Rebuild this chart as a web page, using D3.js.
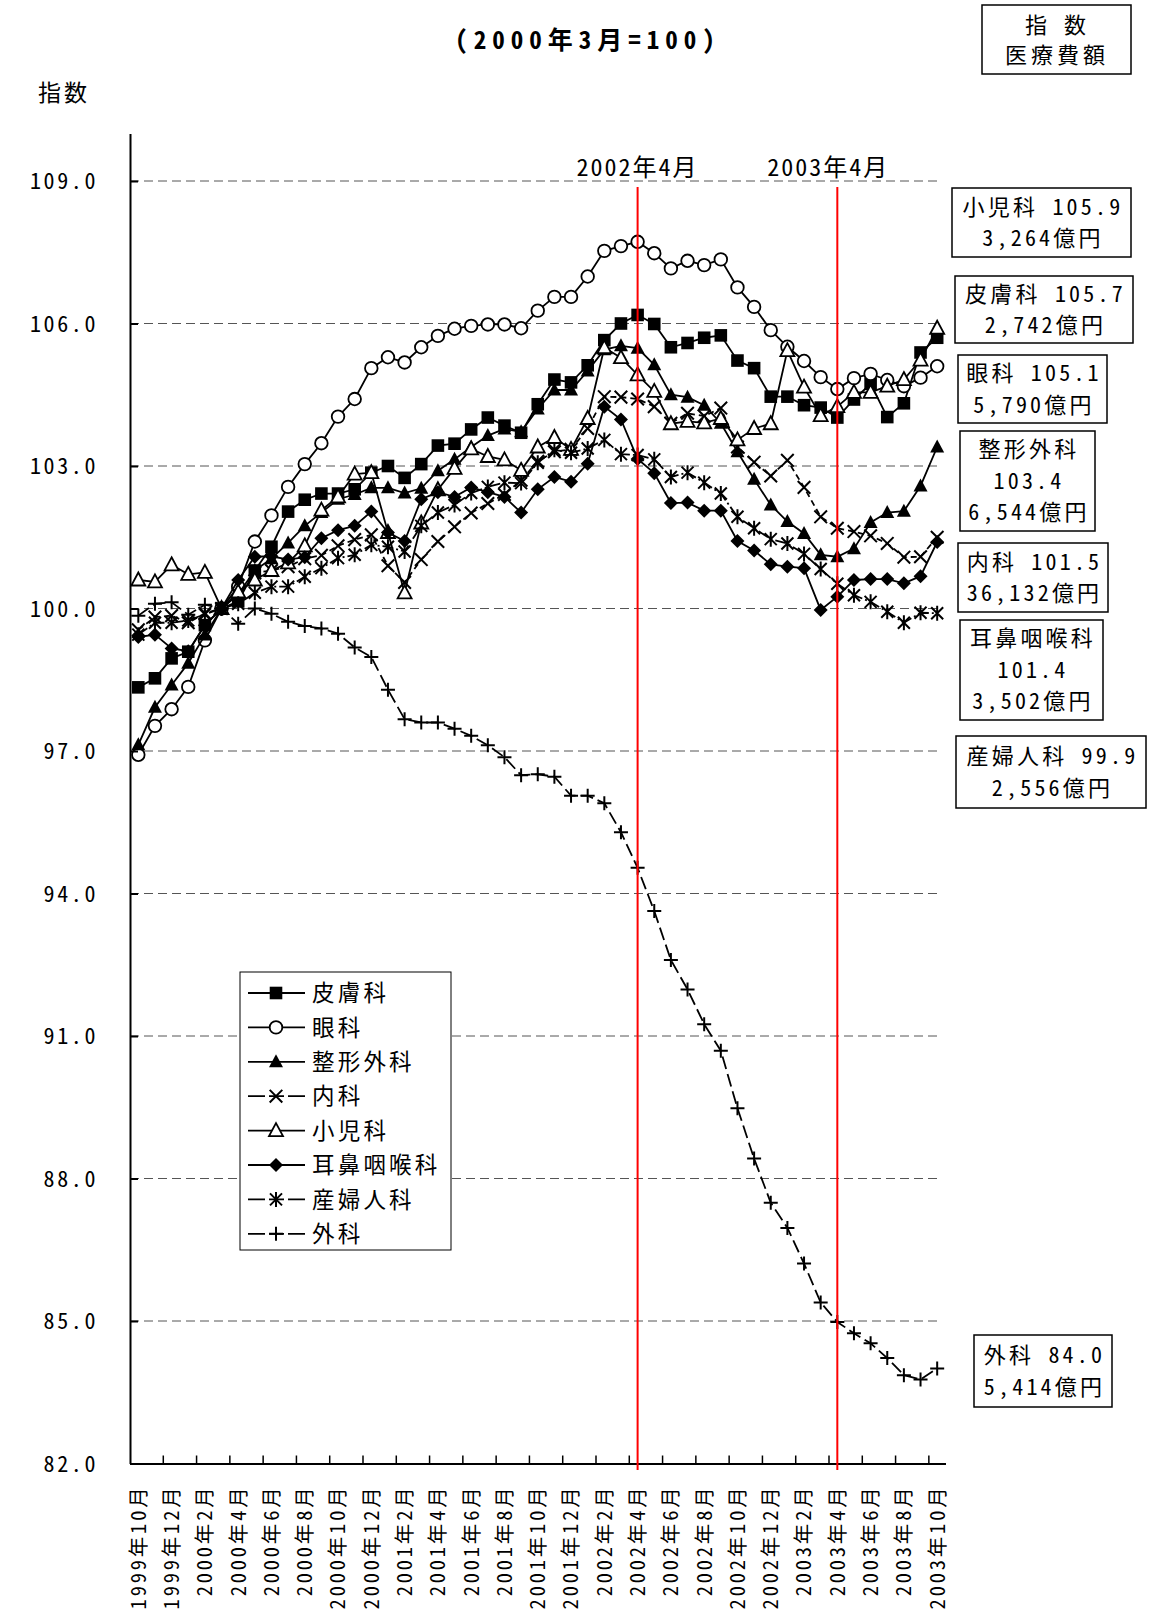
<!DOCTYPE html>
<html>
<head>
<meta charset="utf-8">
<script src="https://cdn.jsdelivr.net/npm/d3@7"></script>
<style>
  html, body { margin: 0; padding: 0; background: #fff; }
  svg text { font-family: "Noto Sans Mono CJK JP", "Noto Sans CJK JP", "DejaVu Sans Mono", monospace; fill: #000; }
</style>
</head>
<body>
<svg id="chart" width="1167" height="1613"></svg>
<script>
// Monthly categories, 1999年10月 .. 2003年10月
const months = [
  "1999年10月","1999年11月","1999年12月","2000年1月","2000年2月","2000年3月","2000年4月","2000年5月","2000年6月","2000年7月",
  "2000年8月","2000年9月","2000年10月","2000年11月","2000年12月","2001年1月","2001年2月","2001年3月","2001年4月","2001年5月",
  "2001年6月","2001年7月","2001年8月","2001年9月","2001年10月","2001年11月","2001年12月","2002年1月","2002年2月","2002年3月",
  "2002年4月","2002年5月","2002年6月","2002年7月","2002年8月","2002年9月","2002年10月","2002年11月","2002年12月","2003年1月",
  "2003年2月","2003年3月","2003年4月","2003年5月","2003年6月","2003年7月","2003年8月","2003年9月","2003年10月"
];
// every second month is labelled on the category axis
const xTickLabels = months.filter((m, i) => i % 2 === 0);
const yTicks = [82, 85, 88, 91, 94, 97, 100, 103, 106, 109];
const markerMonths = ["2002年4月", "2003年4月"];

// index values (2000年3月 = 100)
const hifu = [98.34, 98.53, 98.95, 99.09, 99.65, 100.0, 100.15, 100.8, 101.3, 102.04,
  102.29, 102.42, 102.42, 102.51, 102.86, 103.0, 102.75, 103.04, 103.43, 103.47,
  103.77, 104.02, 103.85, 103.7, 104.3, 104.82, 104.76, 105.12, 105.65, 106.0,
  106.18, 105.99, 105.5, 105.59, 105.7, 105.75, 105.22, 105.06, 104.46, 104.46,
  104.28, 104.23, 104.02, 104.4, 104.73, 104.03, 104.32, 105.39, 105.7];
const ganka = [96.92, 97.53, 97.88, 98.35, 99.33, 100.0, 100.46, 101.41, 101.96, 102.56,
  103.04, 103.48, 104.04, 104.41, 105.06, 105.29, 105.18, 105.5, 105.74, 105.89,
  105.95, 105.98, 105.98, 105.9, 106.27, 106.56, 106.56, 106.99, 107.53, 107.63,
  107.72, 107.48, 107.16, 107.32, 107.23, 107.35, 106.76, 106.35, 105.86, 105.51,
  105.21, 104.87, 104.62, 104.85, 104.94, 104.81, 104.68, 104.86, 105.1];
const seikei = [97.13, 97.92, 98.39, 98.85, 99.44, 100.0, 100.3, 100.8, 101.05, 101.38,
  101.74, 102.02, 102.3, 102.4, 102.54, 102.54, 102.43, 102.53, 102.9, 103.14,
  103.4, 103.64, 103.78, 103.72, 104.2, 104.6, 104.6, 105.0, 105.45, 105.53,
  105.48, 105.13, 104.5, 104.45, 104.28, 103.9, 103.3, 102.72, 102.18, 101.83,
  101.58, 101.13, 101.09, 101.26, 101.81, 102.02, 102.05, 102.58, 103.4];
const naika = [99.55, 99.82, 99.85, 99.7, 99.9, 100.0, 100.3, 100.75, 100.8, 100.88,
  101.05, 101.12, 101.32, 101.45, 101.55, 100.9, 100.55, 101.03, 101.41, 101.72,
  102.01, 102.21, 102.4, 102.7, 103.1, 103.3, 103.35, 103.79, 104.46, 104.45,
  104.41, 104.25, 103.9, 104.11, 104.05, 104.22, 103.4, 103.08, 102.79, 103.12,
  102.55, 101.93, 101.69, 101.62, 101.53, 101.37, 101.08, 101.09, 101.5];
const shoni = [100.6, 100.56, 100.92, 100.72, 100.76, 100.0, 100.35, 100.6, 100.8, 100.96,
  101.32, 102.07, 102.35, 102.83, 102.86, 101.6, 100.33, 101.8, 102.5, 102.95,
  103.36, 103.2, 103.13, 102.91, 103.4, 103.6, 103.35, 104.0, 105.49, 105.28,
  104.92, 104.57, 103.89, 103.94, 103.91, 104.0, 103.55, 103.79, 103.89, 105.43,
  104.66, 104.06, 104.25, 104.55, 104.55, 104.68, 104.82, 105.23, 105.9];
const jibi = [99.4, 99.45, 99.16, 99.1, 99.65, 100.0, 100.6, 101.09, 101.1, 101.03,
  101.08, 101.48, 101.65, 101.74, 102.04, 101.6, 101.42, 102.3, 102.45, 102.35,
  102.55, 102.45, 102.35, 102.02, 102.51, 102.77, 102.67, 103.05, 104.25, 103.98,
  103.15, 102.85, 102.22, 102.23, 102.06, 102.06, 101.42, 101.22, 100.93, 100.88,
  100.85, 99.97, 100.25, 100.6, 100.62, 100.62, 100.53, 100.68, 101.4];
const sanfu = [99.45, 99.7, 99.7, 99.75, 99.88, 100.0, 100.1, 100.33, 100.46, 100.46,
  100.67, 100.85, 101.06, 101.13, 101.34, 101.3, 101.2, 101.74, 102.02, 102.18,
  102.43, 102.56, 102.65, 102.64, 103.07, 103.34, 103.28, 103.37, 103.55, 103.25,
  103.23, 103.14, 102.77, 102.86, 102.65, 102.42, 101.93, 101.69, 101.46, 101.37,
  101.15, 100.83, 100.52, 100.28, 100.14, 99.93, 99.7, 99.91, 99.9];
const geka = [99.85, 100.1, 100.13, 99.87, 100.08, 100.0, 99.68, 100.0, 99.89, 99.72,
  99.63, 99.58, 99.47, 99.18, 98.98, 98.29, 97.67, 97.6, 97.6, 97.47,
  97.32, 97.12, 96.87, 96.49, 96.51, 96.46, 96.06, 96.06, 95.9, 95.29,
  94.54, 93.63, 92.6, 91.98, 91.25, 90.69, 89.48, 88.42, 87.49, 86.96,
  86.21, 85.39, 84.98, 84.74, 84.53, 84.22, 83.86, 83.77, 84.0];

const seriesNames = ["皮膚科", "眼科", "整形外科", "内科", "小児科", "耳鼻咽喉科", "産婦人科", "外科"];
const seriesValues = [hifu, ganka, seikei, naika, shoni, jibi, sanfu, geka];
const seriesMarkers = ["square", "circle", "triangleFilled", "times", "triangleOpen", "diamond", "asterisk", "plus"];
const seriesDash = [null, null, null, "6,4", null, null, "11,3,2,3", "13,5"];

// latest index and spending (億円) per department
const noteLines = [
  ["小児科 105.9", "3,264億円"],
  ["皮膚科 105.7", "2,742億円"],
  ["眼科 105.1", "5,790億円"],
  ["整形外科", "103.4", "6,544億円"],
  ["内科 101.5", "36,132億円"],
  ["耳鼻咽喉科", "101.4", "3,502億円"],
  ["産婦人科 99.9", "2,556億円"],
  ["外科 84.0", "5,414億円"]
];
const noteBoxes = [
  [952, 188, 179, 69], [955, 276, 178, 67], [958, 355, 149, 68], [960, 431, 135, 100],
  [958, 543, 150, 69], [960, 620, 143, 100], [956, 736, 190, 72], [974, 1335, 138, 72]
];

const W = 1167, H = 1613;
const svg = d3.select("#chart");
svg.append("rect").attr("width", W).attr("height", H).attr("fill", "#fff");

const plot = { left: 130, right: 945.5, top: 133.5, bottom: 1463.5 };
const x = d3.scaleBand().domain(months).range([plot.left, plot.right]);
const cx = m => x(m) + x.bandwidth() / 2;
const y = d3.scaleLinear().domain([82, 110]).range([plot.bottom, plot.top]);

// dashed horizontal gridlines
svg.append("g").selectAll("line")
  .data(yTicks.filter(v => v > 82))
  .join("line")
  .attr("x1", plot.left).attr("x2", 937)
  .attr("y1", d => y(d)).attr("y2", d => y(d))
  .attr("stroke", "#555").attr("stroke-width", 1).attr("stroke-dasharray", "9,5");

// marker shapes
function markerPath(type) {
  switch (type) {
    case "square": return "M-6.3,-6.3h12.6v12.6h-12.6z";
    case "triangleFilled":
    case "triangleOpen": return "M0,-7.5L7,5.5L-7,5.5Z";
    case "diamond": return "M0,-7L7,0L0,7L-7,0Z";
    case "times": return "M-6.3,-6.3L6.3,6.3M6.3,-6.3L-6.3,6.3";
    case "asterisk": return "M-6,-6L6,6M6,-6L-6,6M0,-7.5V7.5";
    case "plus": return "M-7,0H7M0,-7V7";
  }
  return null;
}
function drawMarker(sel, type) {
  if (type === "circle") {
    sel.append("circle").attr("r", 6.3).attr("fill", "#fff").attr("stroke", "#000").attr("stroke-width", 1.8);
    return;
  }
  const p = sel.append("path").attr("d", markerPath(type));
  if (type === "square" || type === "triangleFilled" || type === "diamond") {
    p.attr("fill", "#000").attr("stroke", "none");
  } else if (type === "triangleOpen") {
    p.attr("fill", "#fff").attr("stroke", "#000").attr("stroke-width", 1.8);
  } else {
    p.attr("fill", "none").attr("stroke", "#000").attr("stroke-width", 2);
  }
}

const line = d3.line().x((d, i) => cx(months[i])).y(d => y(d));

// series: line then markers, in legend order
seriesValues.forEach((vals, s) => {
  const g = svg.append("g");
  const path = g.append("path").datum(vals)
    .attr("d", line).attr("fill", "none").attr("stroke", "#000").attr("stroke-width", 1.8);
  if (seriesDash[s]) path.attr("stroke-dasharray", seriesDash[s]);
  g.selectAll("g.m").data(vals).join("g").attr("class", "m")
    .attr("transform", (d, i) => `translate(${cx(months[i])},${y(d)})`)
    .each(function () { drawMarker(d3.select(this), seriesMarkers[s]); });
});

// y axis, ticks pointing inward
const yAxis = d3.axisLeft(y).tickValues(yTicks).tickSizeInner(-8).tickSizeOuter(0)
  .tickPadding(32).tickFormat(d3.format(".1f"));
const gy = svg.append("g").attr("transform", `translate(${plot.left},0)`).call(yAxis);
gy.select(".domain").attr("stroke", "#000").attr("stroke-width", 2);
gy.selectAll(".tick line").attr("stroke", "#000").attr("stroke-width", 2);
gy.selectAll(".tick text")
  .style("font-family", "\"Noto Sans Mono CJK JP\", \"DejaVu Sans Mono\", monospace")
  .attr("font-size", 22).attr("letter-spacing", 2.6).attr("dy", "0.36em");

// x axis: band boundaries carry tick marks, labels sit on the month centres
const xAxis = d3.axisBottom(x).tickValues(xTickLabels).tickSizeInner(0).tickSizeOuter(0).tickPadding(0);
const gx = svg.append("g").attr("transform", `translate(0,${plot.bottom})`).call(xAxis);
gx.select(".domain").attr("stroke", "#000").attr("stroke-width", 2);
gx.selectAll(".tick text")
  .attr("transform", "rotate(-90)")
  .attr("text-anchor", "end")
  .attr("x", -21).attr("y", 0).attr("dy", "0.36em")
  .attr("font-size", 20.5).attr("letter-spacing", 2.8);
gx.append("g").selectAll("line")
  .data(months.filter((m, i) => i > 0 && i % 2 === 0))
  .join("line")
  .attr("x1", d => x(d)).attr("x2", d => x(d))
  .attr("y1", 0).attr("y2", -8)
  .attr("stroke", "#000").attr("stroke-width", 1.5);

// red reference lines at the fee revisions
svg.append("g").selectAll("line").data(markerMonths).join("line")
  .attr("x1", d => cx(d)).attr("x2", d => cx(d))
  .attr("y1", 187).attr("y2", 1470)
  .attr("stroke", "#f00").attr("stroke-width", 2);
svg.append("text").attr("x", cx(markerMonths[0])).attr("y", 168).attr("text-anchor", "middle")
  .attr("dy", "0.35em").attr("font-size", 24).attr("letter-spacing", 2).text(markerMonths[0]);
svg.append("text").attr("x", cx(markerMonths[1]) - 9).attr("y", 168).attr("text-anchor", "middle")
  .attr("dy", "0.35em").attr("font-size", 24).attr("letter-spacing", 2).text(markerMonths[1]);

// title and axis caption
svg.append("text").attr("x", 588).attr("y", 40).attr("text-anchor", "middle").attr("dy", "0.35em")
  .attr("font-size", 25).attr("font-weight", "bold").attr("letter-spacing", 6)
  .text("(2000年3月=100)");
svg.append("text").attr("x", 38).attr("y", 93).attr("dy", "0.35em")
  .attr("font-size", 23).attr("letter-spacing", 3).text("指数");

// header box
svg.append("rect").attr("x", 982).attr("y", 5).attr("width", 149).attr("height", 69)
  .attr("fill", "#fff").attr("stroke", "#000").attr("stroke-width", 1.5);
svg.append("text").attr("x", 1057).attr("y", 25).attr("text-anchor", "middle").attr("dy", "0.35em")
  .attr("font-size", 22).attr("letter-spacing", 3).attr("xml:space", "preserve").text("指 数");
svg.append("text").attr("x", 1057).attr("y", 55).attr("text-anchor", "middle").attr("dy", "0.35em")
  .attr("font-size", 22).attr("letter-spacing", 4).text("医療費額");

// department boxes on the right
noteLines.forEach((lines, k) => {
  const [bx, by, bw, bh] = noteBoxes[k];
  const g = svg.append("g");
  g.append("rect").attr("x", bx).attr("y", by).attr("width", bw).attr("height", bh)
    .attr("fill", "#fff").attr("stroke", "#000").attr("stroke-width", 1.5);
  const step = 31.5;
  const y0 = by + bh / 2 - (lines.length - 1) * step / 2;
  lines.forEach((t, j) => {
    g.append("text").attr("x", bx + bw / 2 + 1.5).attr("y", y0 + j * step)
      .attr("text-anchor", "middle").attr("dy", "0.36em")
      .attr("font-size", 22).attr("letter-spacing", 3.2).attr("xml:space", "preserve").text(t);
  });
});

// legend
const lg = svg.append("g");
lg.append("rect").attr("x", 240).attr("y", 972).attr("width", 211).attr("height", 278)
  .attr("fill", "#fff").attr("stroke", "#000").attr("stroke-width", 1);
seriesNames.forEach((name, s) => {
  const ly = 993 + s * 34.4;
  const l = lg.append("line").attr("x1", 248).attr("x2", 305).attr("y1", ly).attr("y2", ly)
    .attr("stroke", "#000").attr("stroke-width", 1.8);
  if (seriesDash[s]) l.attr("stroke-dasharray", "17,4,15,4,17");
  const mg = lg.append("g").attr("transform", `translate(276,${ly})`);
  drawMarker(mg, seriesMarkers[s]);
  lg.append("text").attr("x", 312).attr("y", ly).attr("dy", "0.36em")
    .attr("font-size", 22.5).attr("letter-spacing", 3.2).text(name);
});
</script>
</body>
</html>
